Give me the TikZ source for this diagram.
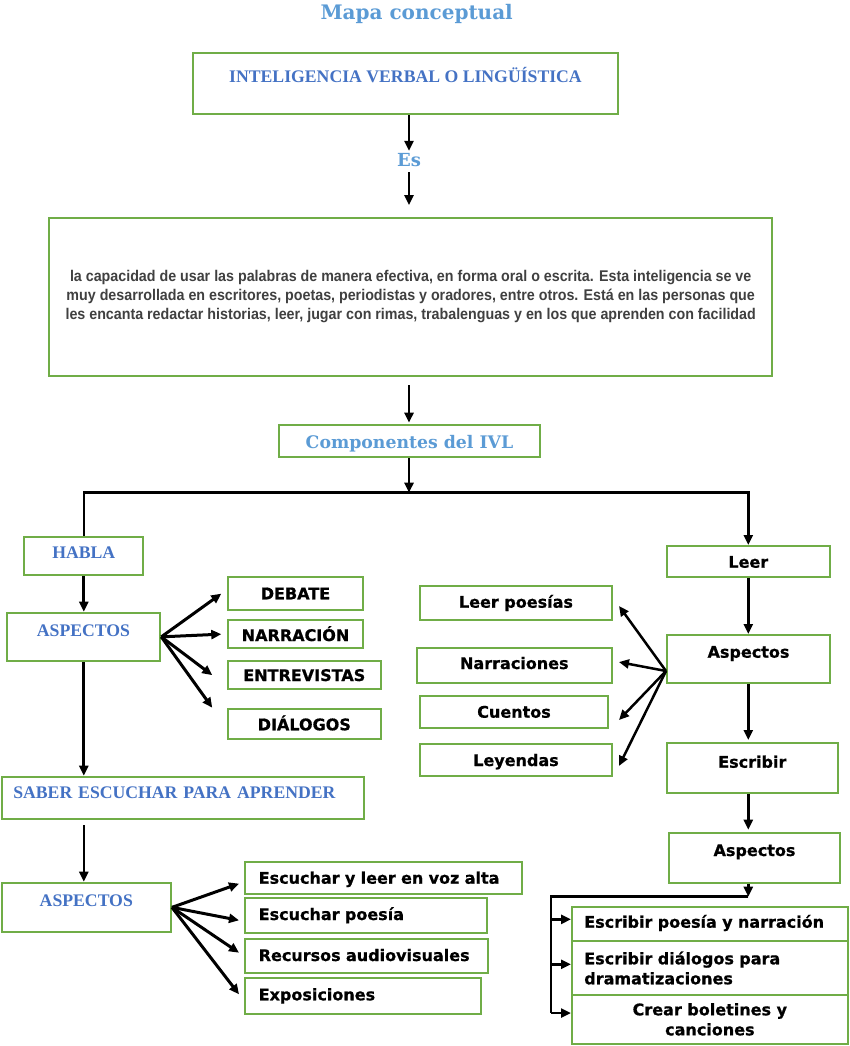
\documentclass[tikz,border=0pt]{standalone}
\usepackage{fontspec}
\usepackage{xcolor}
\usetikzlibrary{arrows.meta}
\newfontfamily\lblfont[BoldFeatures={FakeBold=0.8}]{DejaVu Sans}
\newfontfamily\capfont{Liberation Serif}
\newfontfamily\ttlfont{DejaVu Serif}
\newfontfamily\parafont[FakeStretch=0.92]{Liberation Sans}
\definecolor{boxgreen}{HTML}{70AD47}
\definecolor{capblue}{HTML}{4472C4}
\definecolor{ttlblue}{HTML}{5B9BD5}
\definecolor{paragray}{HTML}{404040}
\tikzset{
  box/.style={draw=boxgreen,line width=2pt,inner sep=0pt,fill=white},
  lbl/.style={font={\lblfont\bfseries\fontsize{16}{20}\selectfont}},
  capt/.style={text=capblue,font={\capfont\bfseries\fontsize{17.7}{21}\selectfont}},
  ttl/.style={text=ttlblue,font={\ttlfont\bfseries\fontsize{17.3}{21}\selectfont}},
  arr/.style={-{Triangle[length=10pt,width=9pt]},line width=2.5pt},
}

\begin{document}
\begin{tikzpicture}[x=1pt,y=-1pt]
        \useasboundingbox (0,0) rectangle (850,1046);
        % top part
        \node[ttl,font={\ttlfont\bfseries\fontsize{20}{24}\selectfont},anchor=base] (title) at (416.7,19.3) {Mapa conceptual};
        \node[box,capt,minimum width=424.4pt,text height=29.4pt,text depth=31.6pt,anchor=north] (ivl) at (405.5,52.3) {INTELIGENCIA VERBAL O LINGÜÍSTICA};
        \node[ttl,font={\ttlfont\bfseries\fontsize{18}{22}\selectfont},inner sep=0pt,anchor=base] (es) at (409,166.7) {Es};
        \node[box,minimum width=723.3pt,minimum height=158.3pt,align=center,text=paragray,font={\parafont\bfseries\fontsize{15.5}{19}\selectfont}] (def) at (410.7,296.9) {la capacidad de usar las palabras de manera efectiva, en forma oral o escrita. Esta inteligencia se ve\\muy desarrollada en escritores, poetas, periodistas y oradores, entre otros. Está en las personas que\\les encanta redactar historias, leer, jugar con rimas, trabalenguas y en los que aprenden con facilidad};
        \node[box,ttl,minimum width=261.7pt,text height=23pt,text depth=8.7pt,anchor=north] (comp) at (409.5,424.3) {Componentes del IVL};
        \coordinate (br) at (409,492.7);

        % habla
        \node[box,capt,minimum width=119pt,text height=22pt,text depth=16.3pt,anchor=north] (habla) at (83.8,535.7) {HABLA};
        \node[box,capt,minimum width=153.6pt,text height=23.3pt,text depth=25pt,anchor=north] (asp1) at (83.5,611.7) {ASPECTOS};
        \node[box,lbl,minimum width=135.6pt,text height=22.3pt,text depth=11pt,anchor=north] (debate) at (295.5,576) {DEBATE};
        \node[box,lbl,minimum width=135.6pt,text height=21pt,text depth=7.3pt,anchor=north] (narracion) at (295.5,619) {NARRACIÓN};
        \node[box,lbl,minimum width=153.3pt,text height=20pt,text depth=8.3pt,anchor=north] (entrevistas) at (304.3,660) {ENTREVISTAS};
        \node[box,lbl,minimum width=153.3pt,text height=21.6pt,text depth=9pt,anchor=north] (dialogos) at (304.3,707.7) {DIÁLOGOS};

        % saber escuchar
        \node[box,capt,text width=339.7pt,inner xsep=11.3pt,align=left,text height=22pt,text depth=20pt,anchor=north west] (saber) at (1,775.7) {\mbox{SABER ESCUCHAR PARA APRENDER}};
        \node[box,capt,minimum width=169.3pt,text height=23.3pt,text depth=26pt,anchor=north] (asp2) at (86.3,881.7) {ASPECTOS};
        \node[box,lbl,text width=249.9pt,inner xsep=13.4pt,align=left,text height=21.7pt,text depth=10pt,anchor=north west] (esc1) at (244.3,861) {\mbox{Escuchar y leer en voz alta}};
        \node[box,lbl,text width=214.9pt,inner xsep=13.4pt,align=left,text height=22.3pt,text depth=12.7pt,anchor=north west] (esc2) at (244.3,896.7) {\mbox{Escuchar poesía}};
        \node[box,lbl,text width=216.2pt,inner xsep=13.4pt,align=left,text height=22.3pt,text depth=11.7pt,anchor=north west] (rec) at (244.3,937.7) {\mbox{Recursos audiovisuales}};
        \node[box,lbl,text width=208.9pt,inner xsep=13.4pt,align=left,text height=22pt,text depth=14pt,anchor=north west] (expo) at (244.3,977.3) {\mbox{Exposiciones}};

        % leer / escribir
        \node[box,lbl,minimum width=163.3pt,text height=21.7pt,text depth=9pt,anchor=north] (leer) at (748.3,545) {Leer};
        \node[box,lbl,minimum width=163pt,text height=22.7pt,text depth=25.3pt,anchor=north] (asp3) at (748.5,634) {Aspectos};
        \node[box,lbl,minimum width=192pt,text height=21.7pt,text depth=12.3pt,anchor=north] (leerpo) at (516,585) {Leer poesías};
        \node[box,lbl,minimum width=195.3pt,text height=21.3pt,text depth=14pt,anchor=north] (narr) at (514.3,646.7) {Narraciones};
        \node[box,lbl,minimum width=188pt,text height=22pt,text depth=10pt,anchor=north] (cuentos) at (514,694.7) {Cuentos};
        \node[box,lbl,minimum width=192pt,text height=22.3pt,text depth=10pt,anchor=north] (leyendas) at (516,742.7) {Leyendas};
        \node[box,lbl,minimum width=170.7pt,text height=24.7pt,text depth=25.3pt,anchor=north] (escribir) at (752.3,742) {Escribir};
        \node[box,lbl,minimum width=171pt,text height=23.3pt,text depth=26.7pt,anchor=north] (asp4) at (754.5,831.7) {Aspectos};
        \coordinate (fk) at (551,896.7);
        \node[box,lbl,text width=251.1pt,inner xsep=12.3pt,align=left,text height=21pt,text depth=13.3pt,anchor=north west] (ew1) at (571,905.7) {\mbox{Escribir poesía y narración}};
        \node[box,lbl,text width=251.1pt,inner xsep=12.3pt,minimum height=54pt,align=left,anchor=north west] (ew2) at (571,940) {Escribir diálogos para\\dramatizaciones};
        \node[box,lbl,minimum width=275.7pt,minimum height=48.7pt,align=center,anchor=north west] (ew3) at (571,994) {Crear boletines y\\canciones};
        \coordinate (ew1in) at ([yshift=4.5pt]ew1.west);
        \coordinate (ew2in) at ([yshift=3.7pt]ew2.west);
        \coordinate (ew3in) at ([yshift=6.3pt]ew3.west);

        % connectors
        \draw[arr] (es |- ivl.south) -- ([yshift=2.6pt]es.north);
        \draw[arr,shorten <=5pt,shorten >=11.7pt] (es.south) -- (es |- def.north);
        \draw[arr,shorten <=8pt,shorten >=1.6pt] (es |- def.south) -- (es |- comp.north);
        \draw[arr] (es |- comp.south) -- (br);
        \draw[arr] (habla.north) |- (br) -| (leer.north);
        \draw[arr,line width=3pt] (habla.south) -- (habla.south |- asp1.north);
        \draw[arr,line width=3pt] (asp1.east) -- ([xshift=-5.4pt]debate.west);
        \draw[arr,line width=3pt] (asp1.east) -- ([xshift=-5.4pt]narracion.west);
        \draw[arr,line width=3pt] (asp1.east) -- ([xshift=-14.4pt]entrevistas.west);
        \draw[arr,line width=3pt] (asp1.east) -- ([xshift=-14.4pt]dialogos.north west);
        \draw[arr,line width=3pt] (habla.south |- asp1.south) -- (habla.south |- saber.north);
        \draw[arr,shorten <=5.6pt] (habla.south |- saber.south) -- (habla.south |- asp2.north);
        \draw[arr,line width=3pt] (asp2.east) -- ([xshift=-5.3pt,yshift=-5.8pt]esc1.west);
        \draw[arr,line width=3pt] (asp2.east) -- ([xshift=-5.3pt,yshift=-5.1pt]esc2.west);
        \draw[arr,line width=3pt] (asp2.east) -- ([xshift=-5.3pt,yshift=3pt]rec.west);
        \draw[arr,line width=3pt] (asp2.east) -- ([xshift=-5.3pt,yshift=2pt]expo.west);
        \draw[arr] (leer.south) -- (leer.south |- asp3.north);
        \draw[arr] ([yshift=-12pt]asp3.west) -- ([xshift=6pt,yshift=-3pt]leerpo.east);
        \draw[arr] ([yshift=-12pt]asp3.west) -- ([xshift=6pt,yshift=3.3pt]narr.east);
        \draw[arr] ([yshift=-12pt]asp3.west) -- ([xshift=10pt,yshift=-8.3pt]cuentos.east);
        \draw[arr] ([yshift=-12pt]asp3.west) -- ([xshift=6pt,yshift=-6.1pt]leyendas.east);
        \draw[arr,shorten >=2pt] (leer.south |- asp3.south) -- (leer.south |- escribir.north);
        \draw[arr,shorten >=2pt] (leer.south |- escribir.south) -- (leer.south |- asp4.north);
        \draw[arr] (leer.south |- asp4.south) -- (leer.south |- fk);
        \draw[line width=2.5pt] (leer.south |- fk) -- (fk) -- (fk |- ew3in);
        \draw[arr] (fk |- ew1in) -- (ew1in);
        \draw[arr] (fk |- ew2in) -- (ew2in);
        \draw[arr] (fk |- ew3in) -- (ew3in);
\end{tikzpicture}
\end{document}
